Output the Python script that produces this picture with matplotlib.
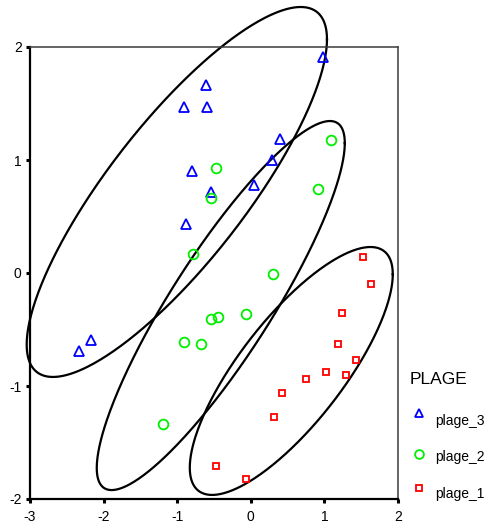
import numpy as np
import matplotlib
matplotlib.use('Agg')
import matplotlib.pyplot as plt
from matplotlib.lines import Line2D

plt.rcParams['font.family'] = ['Liberation Sans', 'DejaVu Sans']
plt.rcParams['axes.unicode_minus'] = False

# ---- data ----
p3_x = [-2.34, -2.17, 0.98, -0.61, -0.91, -0.60, 0.39, 0.29, -0.80, 0.04, -0.54, -0.88]
p3_y = [-0.69, -0.59, 1.91, 1.66, 1.47, 1.47, 1.19, 1.00, 0.90, 0.78, 0.72, 0.43]

p2_x = [1.09, -0.47, 0.91, -0.54, -0.78, 0.30, -0.06, -0.54, -0.44, -0.91, -0.67, -1.19]
p2_y = [1.18, 0.93, 0.74, 0.66, 0.17, -0.01, -0.36, -0.41, -0.39, -0.61, -0.63, -1.34]

p1_x = [1.53, 1.63, 1.24, 1.19, 1.43, 1.02, 1.30, 0.75, 0.43, 0.32, -0.47, -0.06]
p1_y = [0.14, -0.10, -0.35, -0.63, -0.77, -0.88, -0.90, -0.94, -1.06, -1.27, -1.71, -1.82]

series_labels = ['plage_3', 'plage_2', 'plage_1']
legend_title = 'PLAGE'

# ellipses (one per group): centre, half-extent in x and y, correlation
ell_cx = [-1.005, -0.408, 0.55]
ell_cy = [0.717, -0.288, -0.867]
ell_wx = [2.04, 1.685, 1.379]
ell_hy = [1.637, 1.633, 1.097]
ell_rho = [0.825, 0.88, 0.78]

x_ticks = [-3, -2, -1, 0, 1, 2]
y_ticks = [-2, -1, 0, 1, 2]

# ---- figure ----
W, H = 486, 525
fig = plt.figure(figsize=(W / 100, H / 100), dpi=100)
ax = fig.add_axes([30 / W, 1 - 499 / H, 368 / W, 452 / H])

styles = [
    dict(marker='^', color='#0000ff', ms=6.5),
    dict(marker='o', color='#00ee00', ms=7.0),
    dict(marker='s', color='#ff0000', ms=5.0),
]
series = [(p3_x, p3_y), (p2_x, p2_y), (p1_x, p1_y)]

for (xs, ys), st in zip(series, styles):
    ax.plot(xs, ys, linestyle='none', marker=st['marker'], ms=st['ms'],
            mfc='none', mec=st['color'], mew=1.3, zorder=3)

t = np.linspace(0, 2 * np.pi, 500)
for cx, cy, wx, hy, rho in zip(ell_cx, ell_cy, ell_wx, ell_hy, ell_rho):
    phi = np.arccos(rho)
    ax.plot(cx + wx * np.cos(t), cy + hy * np.cos(t - phi), color='black',
            lw=1.6, clip_on=False, zorder=2)

ax.set_xlim(-3, 2)
ax.set_ylim(-2, 2)
ax.set_xticks(x_ticks)
ax.set_yticks(y_ticks)
ax.set_xticklabels([str(v) for v in x_ticks])
ax.set_yticklabels([str(v) for v in y_ticks])
ax.tick_params(direction='out', length=3, width=2.2, labelsize=10, pad=3,
               color='black')
ax.tick_params(axis='x', pad=5)

for side in ['left', 'bottom']:
    ax.spines[side].set_color('black')
    ax.spines[side].set_linewidth(1.6)
for side in ['top', 'right']:
    ax.spines[side].set_color('#3a3a3a')
    ax.spines[side].set_linewidth(1.1)

# ---- legend (manual, figure coordinates) ----
fig.text(410 / W, 1 - 380 / H, legend_title, fontsize=12.5, ha='left', va='center')
marker_y = [413, 454, 488]
label_y = [421, 457, 494]
for lab, st, my, ly in zip(series_labels, styles, marker_y, label_y):
    fig.add_artist(Line2D([419 / W], [1 - my / H], transform=fig.transFigure,
                          linestyle='none', marker=st['marker'], ms=st['ms'] * 0.9,
                          mfc='none', mec=st['color'], mew=1.3))
    fig.text(435 / W, 1 - ly / H, lab, fontsize=10, ha='left', va='center')

fig.savefig('out.png', dpi=100)
